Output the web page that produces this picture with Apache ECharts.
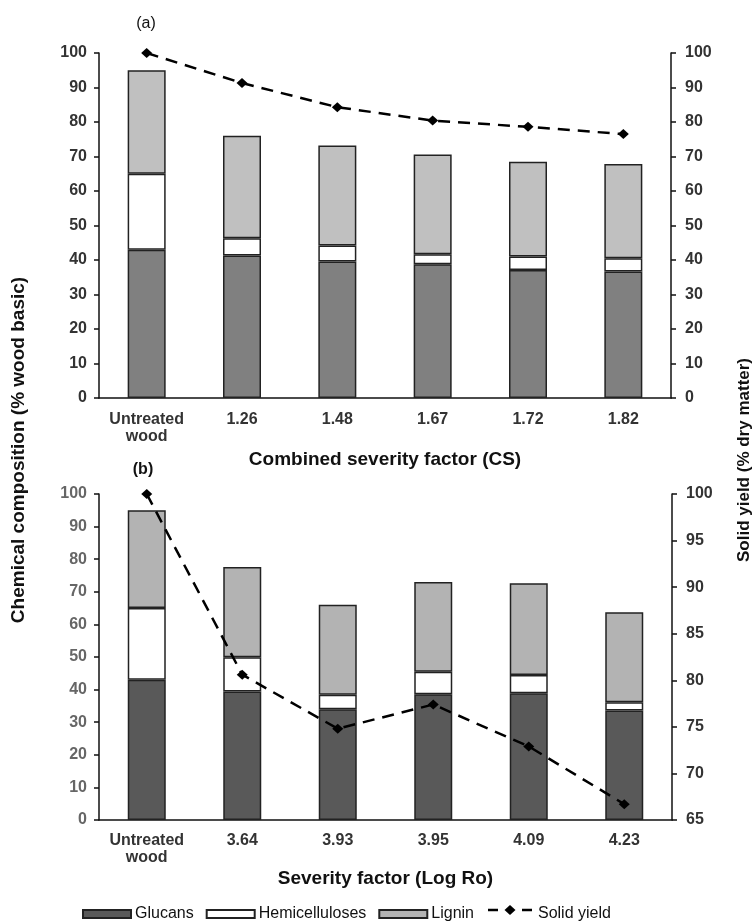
<!DOCTYPE html>
<html>
<head>
<meta charset="utf-8">
<script src="https://cdn.jsdelivr.net/npm/echarts@6/dist/echarts.min.js"></script>
<style>
  html, body { margin: 0; padding: 0; background: #fff; }
  #chart { width: 756px; height: 923px; }
</style>
</head>
<body>
<div id="chart"></div>
<script>
// (a) combined severity factor
const catsA = ['Untreated\nwood', '1.26', '1.48', '1.67', '1.72', '1.82']
const glucansA = [43.0, 41.3, 39.6, 38.8, 37.1, 36.7]
const hemiA = [22.0, 5.0, 4.6, 2.9, 3.9, 3.8]
const ligninA = [30.0, 29.7, 29.0, 28.9, 27.5, 27.3]
const yieldA = [100, 91.3, 84.3, 80.4, 78.6, 76.5]

// (b) severity factor (log Ro)
const catsB = ['Untreated\nwood', '3.64', '3.93', '3.95', '4.09', '4.23']
const glucansB = [43.0, 39.4, 34.0, 38.6, 38.9, 33.6]
const hemiB = [22.0, 10.5, 4.4, 6.9, 5.6, 2.5]
const ligninB = [30.0, 27.7, 27.6, 27.5, 28.1, 27.6]
const yieldB = [100, 80.6, 74.8, 77.4, 72.9, 66.7]

const FONT = '"Liberation Sans", Arial, sans-serif'
const BORDER = '#222'
const GLUCAN_A = '#808080'
const LIGNIN_A = '#c0c0c0'
const GLUCAN_B = '#595959'
const LIGNIN_B = '#b3b3b3'

const chart = echarts.init(document.getElementById('chart'))

const tickLabel = (color, margin) => ({
  color, fontFamily: FONT, fontSize: 16, fontWeight: 'bold', margin,
})
const axisLine = { show: true, lineStyle: { color: '#111', width: 1.5 } }
const axisTick = { show: true, length: 5, lineStyle: { color: '#111', width: 1.5 } }
const titleStyle = { fontFamily: FONT, fontSize: 19, fontWeight: 'bold', color: '#111' }

const bar = (name, data, color, stack, idx) => ({
  name, type: 'bar', stack, data,
  xAxisIndex: idx, yAxisIndex: idx * 2,
  barWidth: 38,
  itemStyle: { color, borderColor: BORDER, borderWidth: 1.5 },
})

const line = (data, idx) => ({
  name: 'Solid yield', type: 'line', data,
  xAxisIndex: idx, yAxisIndex: idx * 2 + 1,
  symbol: 'diamond', symbolSize: [11, 10],
  itemStyle: { color: '#000' },
  lineStyle: { color: '#000', width: 2.5, type: [12, 8] },
  z: 5,
})

chart.setOption({
  animation: false,
  textStyle: { fontFamily: FONT },
  grid: [
    { left: 99, right: 85, top: 53, height: 345 },
    { left: 99, right: 84, top: 494, height: 326 },
  ],
  legend: {
    left: 77, top: 901,
    icon: 'rect',
    itemWidth: 48, itemHeight: 8, itemGap: 12,
    textStyle: { fontFamily: FONT, fontSize: 16, color: '#111', padding: [0, 0, 0, -1] },
    data: ['Glucans', 'Hemicelluloses', 'Lignin', { name: 'Solid yield', icon: 'none' }],
  },
  xAxis: [
    {
      type: 'category', gridIndex: 0, data: catsA,
      axisLine, axisTick: { show: false },
      axisLabel: { ...tickLabel('#333', 13), lineHeight: 17, interval: 0 },
      name: 'Combined severity factor (CS)', nameLocation: 'middle', nameGap: 52,
      nameTextStyle: titleStyle,
    },
    {
      type: 'category', gridIndex: 1, data: catsB,
      axisLine, axisTick: { show: false },
      axisLabel: { ...tickLabel('#333', 12), lineHeight: 17, interval: 0 },
      name: 'Severity factor (Log Ro)', nameLocation: 'middle', nameGap: 49,
      nameTextStyle: titleStyle,
    },
  ],
  yAxis: [
    {
      type: 'value', gridIndex: 0, position: 'left', min: 0, max: 100, interval: 10,
      axisLine, axisTick, splitLine: { show: false },
      axisLabel: tickLabel('#333', 12),
    },
    {
      type: 'value', gridIndex: 0, position: 'right', min: 0, max: 100, interval: 10,
      axisLine, axisTick, splitLine: { show: false },
      axisLabel: tickLabel('#333', 14),
    },
    {
      type: 'value', gridIndex: 1, position: 'left', min: 0, max: 100, interval: 10,
      axisLine, axisTick, splitLine: { show: false },
      axisLabel: tickLabel('#666', 12),
    },
    {
      type: 'value', gridIndex: 1, position: 'right', min: 65, max: 100, interval: 5,
      axisLine, axisTick, splitLine: { show: false },
      axisLabel: tickLabel('#333', 14),
    },
  ],
  graphic: [
    {
      type: 'text', x: 19, y: 450, rotation: Math.PI / 2,
      style: {
        text: 'Chemical composition (% wood basic)', fontFamily: FONT,
        fontSize: 19, fontWeight: 'bold', fill: '#111', align: 'center', verticalAlign: 'middle',
      },
    },
    {
      type: 'text', x: 744, y: 460, rotation: Math.PI / 2,
      style: {
        text: 'Solid yield (% dry matter)', fontFamily: FONT,
        fontSize: 17, fontWeight: 'bold', fill: '#111', align: 'center', verticalAlign: 'middle',
      },
    },
    {
      type: 'text', x: 146, y: 24,
      style: { text: '(a)', fontFamily: FONT, fontSize: 16, fill: '#111', align: 'center', verticalAlign: 'middle' },
    },
    {
      type: 'text', x: 143, y: 470,
      style: { text: '(b)', fontFamily: FONT, fontSize: 16, fontWeight: 'bold', fill: '#111', align: 'center', verticalAlign: 'middle' },
    },
    // legend marker for the solid-yield line: dash, diamond, dash
    {
      type: 'group', x: 0, y: 910,
      children: [
        { type: 'line', shape: { x1: 488, y1: 0, x2: 498, y2: 0 }, style: { stroke: '#000', lineWidth: 2.5 } },
        { type: 'polygon', shape: { points: [[510, -5], [515.5, 0], [510, 5], [504.5, 0]] }, style: { fill: '#000' } },
        { type: 'line', shape: { x1: 522, y1: 0, x2: 532, y2: 0 }, style: { stroke: '#000', lineWidth: 2.5 } },
      ],
    },
  ],
  // bottom panel first so the legend picks up its darker colours
  series: [
    bar('Glucans', glucansB, GLUCAN_B, 'b', 1),
    bar('Hemicelluloses', hemiB, '#fff', 'b', 1),
    bar('Lignin', ligninB, LIGNIN_B, 'b', 1),
    line(yieldB, 1),
    bar('Glucans', glucansA, GLUCAN_A, 'a', 0),
    bar('Hemicelluloses', hemiA, '#fff', 'a', 0),
    bar('Lignin', ligninA, LIGNIN_A, 'a', 0),
    line(yieldA, 0),
  ],
})
</script>
</body>
</html>
